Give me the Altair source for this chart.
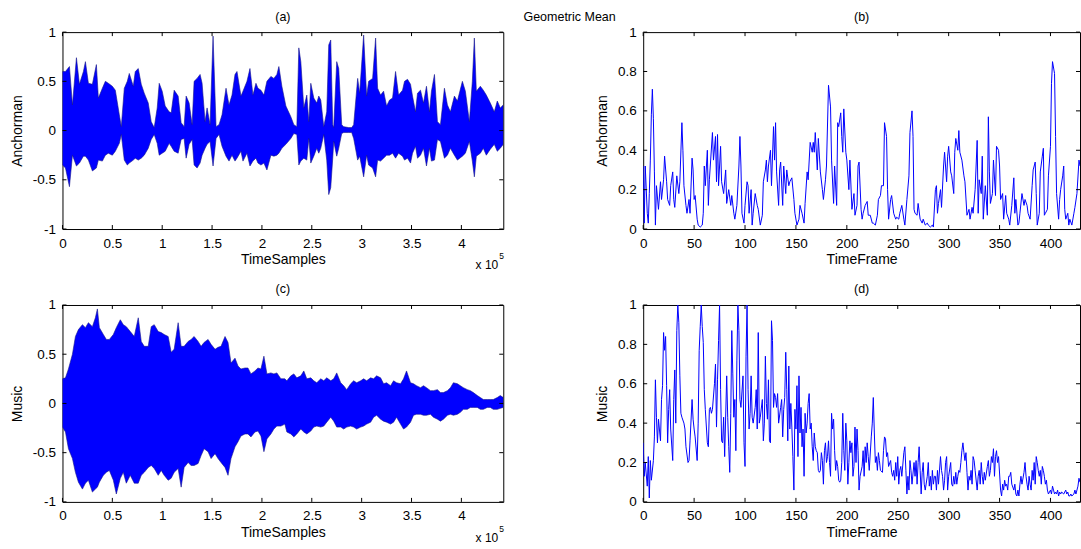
import altair as alt
import pandas as pd

# ---------------- (a) Anchorman waveform envelope (x in units of 1e5 samples) ----------------
a_x = [0.00, 0.03, 0.07, 0.10, 0.14, 0.17, 0.21, 0.23, 0.26, 0.30, 0.34, 0.36, 0.40, 0.43, 0.46,
       0.50, 0.53, 0.57, 0.59, 0.62, 0.65, 0.67, 0.71, 0.73, 0.76, 0.79, 0.82, 0.86, 0.89, 0.92,
       0.95, 0.97, 1.00, 1.03, 1.07, 1.09, 1.12, 1.16, 1.19, 1.22, 1.24, 1.27, 1.30, 1.32, 1.35,
       1.38, 1.40, 1.43, 1.45, 1.48, 1.51, 1.54, 1.57, 1.60, 1.64, 1.67, 1.70, 1.73, 1.75, 1.79,
       1.81, 1.85, 1.88, 1.91, 1.94, 1.96, 1.99, 2.02, 2.05, 2.09, 2.12, 2.15, 2.17, 2.20, 2.24,
       2.29, 2.32, 2.35, 2.37, 2.39, 2.42, 2.45, 2.47, 2.49, 2.52, 2.55, 2.57, 2.59, 2.62, 2.65,
       2.67, 2.69, 2.71, 2.72, 2.75, 2.77, 2.80, 2.82, 2.87, 2.90, 2.92, 2.96, 2.98, 3.02, 3.05,
       3.07, 3.11, 3.14, 3.16, 3.19, 3.22, 3.25, 3.28, 3.31, 3.34, 3.37, 3.41, 3.43, 3.46, 3.49,
       3.51, 3.54, 3.56, 3.59, 3.62, 3.65, 3.68, 3.70, 3.73, 3.76, 3.79, 3.83, 3.86, 3.89, 3.93,
       3.96, 4.01, 4.04, 4.08, 4.11, 4.13, 4.15, 4.19, 4.22, 4.25, 4.29, 4.33, 4.36, 4.39, 4.42]
a_upper = [0.60, 0.60, 0.65, 0.26, 0.74, 0.47, 0.60, 0.70, 0.48, 0.47, 0.67, 0.33, 0.43, 0.50, 0.48,
           0.45, 0.41, 0.16, 0.04, 0.43, 0.50, 0.58, 0.45, 0.60, 0.63, 0.47, 0.38, 0.28, 0.09, 0.03,
           0.23, 0.48, 0.40, 0.25, 0.19, 0.18, 0.41, 0.35, 0.08, 0.04, 0.35, 0.28, 0.06, 0.50, 0.53,
           0.57, 0.48, 0.09, 0.23, 0.06, 0.96, 0.04, 0.06, 0.16, 0.43, 0.26, 0.36, 0.57, 0.60, 0.35,
           0.40, 0.50, 0.63, 0.36, 0.48, 0.43, 0.41, 0.36, 0.50, 0.55, 0.53, 0.57, 0.65, 0.45, 0.25,
           0.14, 0.06, 0.04, 0.84, 0.70, 0.23, 0.36, 0.09, 0.48, 0.33, 0.28, 0.35, 0.31, 0.04, 0.19,
           0.87, 0.92, 0.06, 0.03, 0.70, 0.63, 0.06, 0.04, 0.03, 0.03, 0.06, 0.53, 0.38, 0.97, 0.35,
           0.50, 0.53, 0.94, 0.43, 0.36, 0.40, 0.25, 0.31, 0.33, 0.60, 0.36, 0.41, 0.50, 0.52, 0.47,
           0.35, 0.19, 0.38, 0.41, 0.28, 0.45, 0.19, 0.40, 0.57, 0.09, 0.06, 0.43, 0.26, 0.19, 0.35,
           0.30, 0.50, 0.40, 0.09, 0.50, 0.94, 0.40, 0.45, 0.41, 0.36, 0.28, 0.19, 0.30, 0.23, 0.26]
a_lower = [-0.35, -0.38, -0.57, -0.25, -0.36, -0.33, -0.26, -0.26, -0.30, -0.41, -0.38, -0.30, -0.31, -0.25, -0.23,
           -0.25, -0.21, -0.13, -0.04, -0.30, -0.35, -0.33, -0.30, -0.28, -0.30, -0.28, -0.25, -0.18, -0.09, -0.04,
           -0.13, -0.25, -0.23, -0.21, -0.13, -0.16, -0.21, -0.23, -0.09, -0.08, -0.28, -0.14, -0.09, -0.35, -0.38,
           -0.33, -0.25, -0.18, -0.14, -0.11, -0.36, -0.08, -0.04, -0.16, -0.26, -0.31, -0.25, -0.31, -0.28, -0.21,
           -0.31, -0.23, -0.36, -0.31, -0.28, -0.33, -0.35, -0.33, -0.40, -0.25, -0.26, -0.25, -0.23, -0.18, -0.14,
           -0.08, -0.03, -0.04, -0.35, -0.31, -0.28, -0.30, -0.08, -0.33, -0.26, -0.18, -0.23, -0.18, -0.04, -0.30,
           -0.65, -0.58, -0.28, -0.11, -0.26, -0.18, -0.03, -0.02, -0.02, -0.02, -0.08, -0.30, -0.26, -0.47, -0.25,
           -0.35, -0.38, -0.47, -0.30, -0.31, -0.28, -0.25, -0.25, -0.23, -0.28, -0.23, -0.26, -0.30, -0.28, -0.33,
           -0.23, -0.16, -0.28, -0.25, -0.18, -0.36, -0.18, -0.31, -0.30, -0.09, -0.11, -0.28, -0.25, -0.18, -0.25,
           -0.30, -0.26, -0.23, -0.11, -0.31, -0.47, -0.26, -0.23, -0.18, -0.25, -0.19, -0.14, -0.21, -0.18, -0.14]

# ---------------- (c) Music waveform envelope ----------------
c_x = [0.00, 0.03, 0.06, 0.10, 0.13, 0.16, 0.20, 0.23, 0.26, 0.30, 0.33, 0.35, 0.37, 0.41, 0.44,
       0.47, 0.51, 0.54, 0.58, 0.61, 0.64, 0.68, 0.72, 0.76, 0.79, 0.82, 0.86, 0.89, 0.92, 0.96,
       0.99, 1.02, 1.06, 1.09, 1.12, 1.16, 1.19, 1.22, 1.26, 1.29, 1.32, 1.36, 1.39, 1.42, 1.46,
       1.49, 1.53, 1.56, 1.59, 1.63, 1.66, 1.69, 1.73, 1.76, 1.79, 1.83, 1.86, 1.89, 1.93, 1.96,
       1.99, 2.02, 2.05, 2.09, 2.12, 2.15, 2.19, 2.23,
       2.25, 2.29, 2.32, 2.35, 2.39, 2.42, 2.45, 2.49, 2.52, 2.55, 2.59, 2.62, 2.65, 2.69, 2.72,
       2.75, 2.79, 2.82, 2.85, 2.89, 2.92, 2.95, 2.99, 3.02, 3.05, 3.09, 3.12, 3.15, 3.19, 3.22,
       3.25, 3.29, 3.32, 3.35, 3.39, 3.42, 3.45, 3.49, 3.52, 3.55, 3.59, 3.62, 3.65, 3.69, 3.72,
       3.76, 3.79, 3.82, 3.86, 3.89, 3.92, 3.96, 3.99, 4.02, 4.06, 4.09, 4.12, 4.16, 4.19, 4.22,
       4.26, 4.29, 4.32, 4.36, 4.39, 4.42]
c_upper = [0.25, 0.26, 0.35, 0.50, 0.68, 0.75, 0.80, 0.77, 0.82, 0.78, 0.87, 0.96, 0.77, 0.70, 0.65,
           0.65, 0.70, 0.77, 0.85, 0.80, 0.78, 0.73, 0.68, 0.87, 0.63, 0.58, 0.58, 0.78, 0.80, 0.73,
           0.72, 0.70, 0.68, 0.52, 0.55, 0.82, 0.58, 0.58, 0.63, 0.65, 0.68, 0.63, 0.58, 0.62, 0.65,
           0.60, 0.55, 0.57, 0.58, 0.68, 0.62, 0.41, 0.46, 0.38, 0.35, 0.36, 0.36, 0.30, 0.33, 0.36,
           0.35, 0.48, 0.30, 0.31, 0.30, 0.31, 0.25, 0.25,
           0.23, 0.28, 0.30, 0.26, 0.28, 0.33, 0.25, 0.26, 0.23, 0.21, 0.25, 0.23, 0.26, 0.23, 0.25,
           0.31, 0.21, 0.18, 0.14, 0.20, 0.23, 0.21, 0.23, 0.25, 0.23, 0.26, 0.25, 0.28, 0.26, 0.20,
           0.21, 0.18, 0.23, 0.21, 0.20, 0.25, 0.33, 0.21, 0.20, 0.18, 0.16, 0.18, 0.16, 0.13, 0.13,
           0.14, 0.11, 0.11, 0.13, 0.16, 0.21, 0.20, 0.18, 0.16, 0.14, 0.13, 0.11, 0.08, 0.06, 0.04,
           0.04, 0.04, 0.04, 0.06, 0.08, 0.06]
c_lower = [-0.24, -0.29, -0.46, -0.56, -0.70, -0.80, -0.87, -0.81, -0.78, -0.90, -0.87, -0.85, -0.80, -0.73, -0.70,
           -0.68, -0.78, -0.92, -0.76, -0.70, -0.81, -0.73, -0.81, -0.81, -0.73, -0.70, -0.65, -0.63, -0.66, -0.73,
           -0.68, -0.73, -0.78, -0.76, -0.70, -0.66, -0.85, -0.65, -0.60, -0.63, -0.63, -0.61, -0.53, -0.46, -0.49,
           -0.56, -0.51, -0.56, -0.60, -0.65, -0.73, -0.56, -0.44, -0.39, -0.33, -0.31, -0.31, -0.34, -0.29, -0.28,
           -0.33, -0.49, -0.36, -0.31, -0.26, -0.23, -0.23, -0.21,
           -0.29, -0.31, -0.34, -0.31, -0.26, -0.29, -0.31, -0.28, -0.24, -0.23, -0.24, -0.23, -0.19, -0.14, -0.18,
           -0.24, -0.24, -0.26, -0.24, -0.23, -0.24, -0.26, -0.24, -0.23, -0.21, -0.19, -0.14, -0.12, -0.16, -0.18,
           -0.19, -0.21, -0.19, -0.14, -0.21, -0.26, -0.24, -0.19, -0.12, -0.11, -0.11, -0.12, -0.12, -0.11, -0.14,
           -0.16, -0.18, -0.16, -0.12, -0.11, -0.12, -0.11, -0.09, -0.06, -0.06, -0.04, -0.04, -0.04, -0.06, -0.06,
           -0.04, -0.04, -0.06, -0.06, -0.05, -0.04]

# ---------------- (b) Anchorman geometric mean per time frame ----------------
b_frame = [0, 1, 2, 4, 5, 6, 7, 8, 9, 10, 11, 12, 13, 15, 17, 18, 20, 21, 23, 24,
           26, 27, 29, 30, 31, 33, 35, 36, 38, 39, 40, 42, 43, 45, 46, 48, 49, 50, 51, 53,
           54, 56, 58, 59, 60, 61, 63, 64, 65, 68, 69, 71, 72, 73, 74, 76, 77, 79, 81, 82,
           84, 86, 87, 89, 90, 92, 94, 95, 96, 97, 99, 100, 102, 103, 104, 106, 107, 108, 110, 112,
           113, 115, 117, 118, 120, 121, 122, 123, 125, 126, 128, 129, 130, 131, 133, 134, 135, 137, 138, 140,
           141, 143, 144, 146, 148, 149, 151, 153, 154, 156, 158, 159, 161, 162, 164, 166, 167, 168, 169, 171,
           172, 174, 176, 177, 179, 180, 182, 184, 185, 187, 188, 190, 191, 192, 194, 195, 196, 197, 199, 200,
           202,
           203, 205, 207, 208, 210, 211, 212, 214, 215, 216, 218, 220, 221, 223, 225, 226, 228, 230, 231, 233,
           234, 236, 237, 239, 240, 241, 243, 244, 246, 248, 249, 251, 252, 254, 256, 257, 259, 261, 262, 264,
           265, 266, 267, 269, 270, 272, 274, 275, 277, 279, 280, 282, 284, 285, 287, 288, 289, 290, 292, 293,
           295, 296, 298, 299, 300, 302, 303, 305, 306, 307, 309, 310, 311, 313, 315, 316, 318, 320, 321, 323,
           324, 326, 328, 329, 330, 332, 333, 334, 336, 338, 339, 340, 341, 343, 344, 346, 347, 349, 350, 351,
           353, 354, 356, 357, 359, 360, 362, 364, 365, 366, 368, 369, 370, 372, 374, 375, 377, 378, 380, 382,
           383, 385, 386, 387, 389, 390, 392, 393, 394, 395, 397, 398, 400, 401, 402, 404, 405, 406, 408, 409,
           410, 412, 413, 414, 415, 417, 418, 419, 421, 423, 424, 426, 428, 429]
b_value = [0.32, 0.03, 0.32, 0.08, 0.03, 0.18, 0.35, 0.58, 0.71, 0.56, 0.29, 0.02, 0.22, 0.10, 0.24, 0.15, 0.25, 0.37, 0.24, 0.15,
           0.12, 0.22, 0.29, 0.15, 0.11, 0.27, 0.18, 0.24, 0.54, 0.40, 0.22, 0.12, 0.08, 0.15, 0.08, 0.36, 0.30, 0.15, 0.17, 0.05,
           0.02, 0.01, 0.02, 0.08, 0.32, 0.22, 0.40, 0.12, 0.25, 0.49, 0.35, 0.47, 0.24, 0.48, 0.22, 0.42, 0.24, 0.18, 0.30, 0.13,
           0.20, 0.12, 0.17, 0.08, 0.05, 0.12, 0.32, 0.47, 0.32, 0.08, 0.03, 0.12, 0.24, 0.22, 0.08, 0.20, 0.02, 0.08, 0.18, 0.12,
           0.10, 0.02, 0.07, 0.24, 0.30, 0.35, 0.24, 0.32, 0.40, 0.22, 0.52, 0.35, 0.54, 0.29, 0.12, 0.30, 0.34, 0.12, 0.32, 0.18,
           0.30, 0.22, 0.24, 0.26, 0.15, 0.08, 0.02, 0.05, 0.12, 0.08, 0.03, 0.13, 0.29, 0.25, 0.44, 0.39, 0.44, 0.39, 0.49, 0.30,
           0.46, 0.29, 0.20, 0.15, 0.25, 0.32, 0.73, 0.62, 0.35, 0.13, 0.32, 0.12, 0.54, 0.52, 0.59, 0.47, 0.39, 0.61, 0.39, 0.35,
           0.20,
           0.35, 0.10, 0.18, 0.07, 0.12, 0.32, 0.34, 0.10, 0.05, 0.08, 0.12, 0.14, 0.07, 0.07, 0.03, 0.03, 0.02, 0.07, 0.15, 0.17,
           0.22, 0.22, 0.54, 0.47, 0.20, 0.05, 0.15, 0.17, 0.08, 0.05, 0.06, 0.05, 0.08, 0.12, 0.05, 0.02, 0.15, 0.27, 0.49, 0.60,
           0.47, 0.10, 0.08, 0.07, 0.13, 0.05, 0.03, 0.05, 0.02, 0.03, 0.02, 0.01, 0.02, 0.01, 0.20, 0.22, 0.08, 0.13, 0.20, 0.11,
           0.32, 0.39, 0.24, 0.37, 0.42, 0.29, 0.27, 0.18, 0.39, 0.46, 0.40, 0.50, 0.39, 0.35, 0.27, 0.24, 0.07, 0.10, 0.05, 0.11,
           0.08, 0.20, 0.45, 0.08, 0.25, 0.18, 0.37, 0.05, 0.22, 0.07, 0.57, 0.29, 0.13, 0.18, 0.35, 0.17, 0.42, 0.40, 0.32, 0.15,
           0.18, 0.05, 0.17, 0.08, 0.05, 0.02, 0.12, 0.26, 0.08, 0.15, 0.02, 0.03, 0.08, 0.18, 0.12, 0.15, 0.12, 0.08, 0.05, 0.22,
           0.30, 0.34, 0.18, 0.02, 0.08, 0.29, 0.37, 0.41, 0.07, 0.08, 0.10, 0.27, 0.42, 0.74, 0.85, 0.79, 0.47, 0.18, 0.05, 0.15,
           0.20, 0.27, 0.32, 0.10, 0.05, 0.08, 0.02, 0.05, 0.02, 0.08, 0.11, 0.18, 0.35, 0.32]

# ---------------- (d) Music geometric mean per time frame ----------------
d_frame = [0, 1, 2, 4, 5, 6, 7, 8, 10, 11, 12, 13, 14, 15, 17, 18, 19, 20, 21, 22,
           23, 24, 25, 26, 27, 29, 30, 31, 32, 33, 34, 35, 36, 37, 38, 40, 41, 42, 44, 45,
           46, 48, 49, 50, 51, 53, 54, 55, 56, 57, 58, 59, 60, 61, 63, 64, 65, 66, 67, 68,
           70, 71, 72, 73, 74, 75, 76, 77, 78, 79, 80, 82, 83, 84, 85, 86, 87, 88, 89, 90,
           91, 92, 93, 94, 95, 96, 98, 99, 100, 101, 102, 103, 104, 105, 106, 107, 108, 110, 111, 112,
           113, 114, 115, 117, 118, 119, 120, 121, 122, 123, 124, 125, 126, 127, 128, 129, 130, 131, 132, 133,
           135, 136, 137, 138, 139, 140, 141, 142, 143, 144, 145, 146, 147, 148, 149, 150, 151, 152, 153, 154,
           155, 156, 157, 158, 159, 160, 161, 162, 163, 164, 165, 166, 167, 168, 169, 170, 171, 172, 173, 174,
           175, 176, 177, 178, 179, 180, 181, 182, 183, 184, 185, 186, 187, 188, 189, 190, 191, 192, 193, 194,
           195, 196, 197, 198, 199, 200, 201, 202, 203, 204, 205, 206, 207, 208, 209, 210, 211, 212, 213,
           215, 216, 217, 218, 219, 220, 221, 222, 224, 225, 226, 227, 228, 229, 230, 231, 232, 233, 235, 236,
           237, 238, 239, 240, 241, 243, 244, 245, 246, 247, 248, 249, 250, 251, 252, 253, 254, 256, 257, 258,
           259, 260, 261, 262, 263, 264, 266, 267, 268, 269, 270, 271, 272, 273, 274, 275, 276, 277, 279, 280,
           281, 282, 283, 284, 285, 286, 287, 288, 289, 290, 292, 293, 294, 295, 296, 297, 298, 299, 300, 302,
           303, 304, 305, 306, 307, 308, 309, 310, 311, 312, 313, 314, 315, 316, 317, 318, 319, 320, 321, 322,
           323, 324, 325, 326, 328, 329, 330, 331, 332, 333, 334, 335, 336, 338, 339, 340, 341, 342, 343, 344,
           345, 346, 347, 348, 349, 351, 352, 353, 354, 355, 356, 357, 358, 359, 360, 361, 362, 364, 365, 366,
           367, 368, 369, 370, 371, 372, 374, 375, 376, 377, 378, 379, 380, 381, 382, 383, 384, 385, 386, 387,
           388, 389, 390, 391, 392, 393, 394, 395, 396, 397, 398, 400, 401, 402, 403, 404, 405, 406, 407, 408,
           409, 410, 411, 413, 414, 415, 416, 417, 418, 419, 420, 421, 423, 424, 425, 426, 427, 428, 429]
d_value = [0.30, 0.13, 0.20, 0.08, 0.23, 0.02, 0.21, 0.11, 0.21, 0.33, 0.62, 0.43, 0.30, 0.42, 0.31, 0.52, 0.59, 0.86, 0.77, 0.84,
           0.59, 0.30, 0.47, 0.57, 0.37, 0.21, 0.52, 0.67, 0.40, 0.87, 1.00, 0.91, 0.64, 0.45, 0.43, 0.40, 0.37, 0.28, 0.20, 0.21,
           0.31, 0.52, 0.42, 0.37, 0.33, 0.21, 0.40, 0.77, 0.89, 1.00, 0.89, 0.81, 0.57, 0.47, 0.30, 0.28, 0.47, 0.48, 0.45, 0.47,
           0.60, 0.70, 0.38, 0.62, 0.82, 1.00, 0.57, 0.31, 0.30, 0.43, 0.23, 0.64, 0.43, 0.28, 0.15, 0.45, 0.87, 0.65, 0.43, 0.52,
           0.26, 0.72, 1.00, 0.87, 0.52, 0.48, 0.64, 0.30, 0.18, 0.74, 1.00, 0.57, 0.37, 0.45, 0.64, 0.43, 0.40, 0.48, 0.57, 0.37,
           0.86, 0.40, 0.43, 0.52, 0.31, 0.40, 0.74, 0.50, 0.42, 0.62, 0.31, 0.30, 0.92, 0.82, 0.48, 0.55, 0.53, 0.48, 0.55, 0.40,
           0.48, 0.52, 0.33, 0.47, 0.53, 0.76, 0.57, 0.31, 0.69, 0.37, 0.50, 0.38, 0.23, 0.06, 0.47, 0.37, 0.59, 0.23, 0.64, 0.35,
           0.48, 0.28, 0.37, 0.13, 0.45, 0.35, 0.40, 0.50, 0.55, 0.37, 0.40, 0.28, 0.21, 0.35, 0.28, 0.26, 0.25, 0.16, 0.15, 0.16,
           0.25, 0.21, 0.09, 0.26, 0.30, 0.20, 0.23, 0.31, 0.20, 0.13, 0.45, 0.37, 0.42, 0.26, 0.16, 0.21, 0.18, 0.11, 0.10, 0.11,
           0.20, 0.45, 0.26, 0.16, 0.40, 0.31, 0.09, 0.20, 0.31, 0.25, 0.30, 0.13, 0.18, 0.38, 0.20, 0.37, 0.26, 0.06, 0.13,
           0.18, 0.26, 0.13, 0.28, 0.20, 0.30, 0.23, 0.16, 0.33, 0.40, 0.53, 0.35, 0.20, 0.23, 0.16, 0.25, 0.21, 0.16, 0.15, 0.26,
           0.33, 0.32, 0.23, 0.25, 0.18, 0.21, 0.15, 0.13, 0.16, 0.11, 0.20, 0.13, 0.23, 0.09, 0.16, 0.18, 0.13, 0.25, 0.28, 0.16,
           0.04, 0.13, 0.06, 0.21, 0.16, 0.09, 0.20, 0.13, 0.21, 0.09, 0.20, 0.28, 0.16, 0.04, 0.15, 0.20, 0.09, 0.06, 0.13, 0.20,
           0.08, 0.13, 0.06, 0.16, 0.09, 0.13, 0.13, 0.06, 0.16, 0.09, 0.23, 0.16, 0.13, 0.06, 0.11, 0.20, 0.23, 0.06, 0.13, 0.20,
           0.09, 0.08, 0.13, 0.09, 0.15, 0.09, 0.13, 0.16, 0.15, 0.20, 0.26, 0.30, 0.25, 0.21, 0.25, 0.15, 0.06, 0.13, 0.11, 0.16,
           0.09, 0.23, 0.21, 0.16, 0.06, 0.13, 0.16, 0.09, 0.20, 0.13, 0.09, 0.15, 0.11, 0.18, 0.21, 0.13, 0.16, 0.23, 0.20, 0.27,
           0.13, 0.23, 0.26, 0.20, 0.23, 0.06, 0.03, 0.09, 0.06, 0.11, 0.08, 0.09, 0.06, 0.13, 0.13, 0.15, 0.09, 0.06, 0.09, 0.04,
           0.03, 0.06, 0.03, 0.09, 0.13, 0.09, 0.15, 0.20, 0.13, 0.09, 0.06, 0.13, 0.09, 0.06, 0.16, 0.11, 0.20, 0.09, 0.23, 0.20,
           0.16, 0.13, 0.16, 0.09, 0.18, 0.16, 0.13, 0.09, 0.11, 0.06, 0.04, 0.06, 0.04, 0.08, 0.06, 0.04, 0.05, 0.04, 0.06, 0.03,
           0.05, 0.04, 0.05, 0.04, 0.05, 0.06, 0.04, 0.05, 0.03, 0.03, 0.04, 0.03, 0.04, 0.06, 0.04, 0.06, 0.08, 0.12, 0.10]

# ---------------- ticks / labels ----------------
wave_xticks = [0, 0.5, 1, 1.5, 2, 2.5, 3, 3.5, 4]
wave_yticks = [-1, -0.5, 0, 0.5, 1]
gm_xticks = [0, 50, 100, 150, 200, 250, 300, 350, 400]
gm_yticks = [0, 0.2, 0.4, 0.6, 0.8, 1]

FONT = "Liberation Sans"
BLUE = "#0000ff"
W_L, W_R, H = 441, 437, 197
TICK = 4
LBL = "datum.value < 0 ? '-' + format(-datum.value, '~g') : format(datum.value, '~g')"


def inner_ticks(xvals, yvals, xf, yf, xscale, yscale, xaxis, yaxis, W):
    """Inward MATLAB-style tick marks on all four sides (same fields/axes as the data layer)."""
    tx = pd.DataFrame({xf: xvals})
    ty = pd.DataFrame({yf: yvals})
    rule = dict(color="black", strokeWidth=1)
    xb = alt.Chart(tx).mark_rule(**rule).encode(
        x=alt.X(f"{xf}:Q", scale=xscale, axis=xaxis), y=alt.value(H), y2=alt.value(H - TICK))
    xt = alt.Chart(tx).mark_rule(**rule).encode(
        x=alt.X(f"{xf}:Q", scale=xscale, axis=xaxis), y=alt.value(0), y2=alt.value(TICK))
    yl = alt.Chart(ty).mark_rule(**rule).encode(
        y=alt.Y(f"{yf}:Q", scale=yscale, axis=yaxis), x=alt.value(0), x2=alt.value(TICK))
    yr = alt.Chart(ty).mark_rule(**rule).encode(
        y=alt.Y(f"{yf}:Q", scale=yscale, axis=yaxis), x=alt.value(W), x2=alt.value(W - TICK))
    return [xb, xt, yl, yr]


def panel_title(t):
    return alt.TitleParams(t, font=FONT, fontSize=12.5, fontWeight="normal",
                           color="black", anchor="middle", offset=2)


def wave_panel(x, up, lo, ylabel, title):
    df = pd.DataFrame({"s": x, "hi": up, "lo": lo})
    xs = alt.Scale(domain=[0, 4.42], nice=False, zero=False)
    ys = alt.Scale(domain=[-1, 1], nice=False, zero=False)
    xaxis = alt.Axis(values=wave_xticks, title="TimeSamples", labelExpr=LBL, labelFlush=False)
    yaxis = alt.Axis(values=wave_yticks, title=ylabel, labelExpr=LBL)
    area = alt.Chart(df).mark_area(fill=BLUE, stroke="#16168a", strokeWidth=0.6,
                                   clip=True).encode(
        x=alt.X("s:Q", scale=xs, axis=xaxis),
        y=alt.Y("hi:Q", scale=ys, axis=yaxis),
        y2="lo:Q",
    )
    e1 = alt.Chart(pd.DataFrame({"t": ["x 10"]})).mark_text(
        align="right", baseline="middle", font=FONT, fontSize=12, color="black").encode(
        text="t:N", x=alt.value(436), y=alt.value(H + 36))
    e2 = alt.Chart(pd.DataFrame({"t": ["5"]})).mark_text(
        align="left", baseline="middle", font=FONT, fontSize=8.5, color="black").encode(
        text="t:N", x=alt.value(437), y=alt.value(H + 27))
    ticks = inner_ticks(wave_xticks, wave_yticks, "s", "hi", xs, ys, xaxis, yaxis, W_L)
    return alt.layer(area, *ticks, e1, e2).properties(
        width=W_L, height=H, title=panel_title(title))


def gm_panel(f, v, ylabel, title):
    df = pd.DataFrame({"f": f, "v": v})
    xs = alt.Scale(domain=[0, 429], nice=False, zero=False)
    ys = alt.Scale(domain=[0, 1], nice=False, zero=False)
    xaxis = alt.Axis(values=gm_xticks, title="TimeFrame", labelExpr=LBL, labelFlush=False)
    yaxis = alt.Axis(values=gm_yticks, title=ylabel, labelExpr=LBL)
    line = alt.Chart(df).mark_line(color=BLUE, strokeWidth=1, clip=True).encode(
        x=alt.X("f:Q", scale=xs, axis=xaxis),
        y=alt.Y("v:Q", scale=ys, axis=yaxis),
    )
    ticks = inner_ticks(gm_xticks, gm_yticks, "f", "v", xs, ys, xaxis, yaxis, W_R)
    return alt.layer(line, *ticks).properties(
        width=W_R, height=H, title=panel_title(title))


pa = wave_panel(a_x, a_upper, a_lower, "Anchorman", "(a)")
pb = gm_panel(b_frame, b_value, "Anchorman", "(b)")
pc = wave_panel(c_x, c_upper, c_lower, "Music", "(c)")
pdd = gm_panel(d_frame, d_value, "Music", "(d)")

chart = alt.concat(
    pa, pb, pc, pdd, columns=2,
    spacing=alt.RowColnumber(row=76, column=140), bounds="flush",
    title=alt.TitleParams("Geometric Mean", font=FONT, fontSize=12.5, fontWeight="normal",
                          color="black", anchor="middle", offset=-13, dx=24),
    padding={"left": 9.5, "top": 10, "right": 0, "bottom": 0},
).configure_axis(
    labelFont=FONT, labelFontSize=13.5, labelColor="black",
    titleFont=FONT, titleFontSize=14, titleFontWeight="normal", titleColor="black",
    grid=False, domain=False, ticks=False, labelOverlap=False,
).configure_axisX(labelPadding=7, titlePadding=3).configure_axisY(
    labelPadding=7, titlePadding=7.5
).configure_view(stroke="black", strokeWidth=1)

chart.save("out.html", embed_options={"renderer": "svg", "actions": False})
